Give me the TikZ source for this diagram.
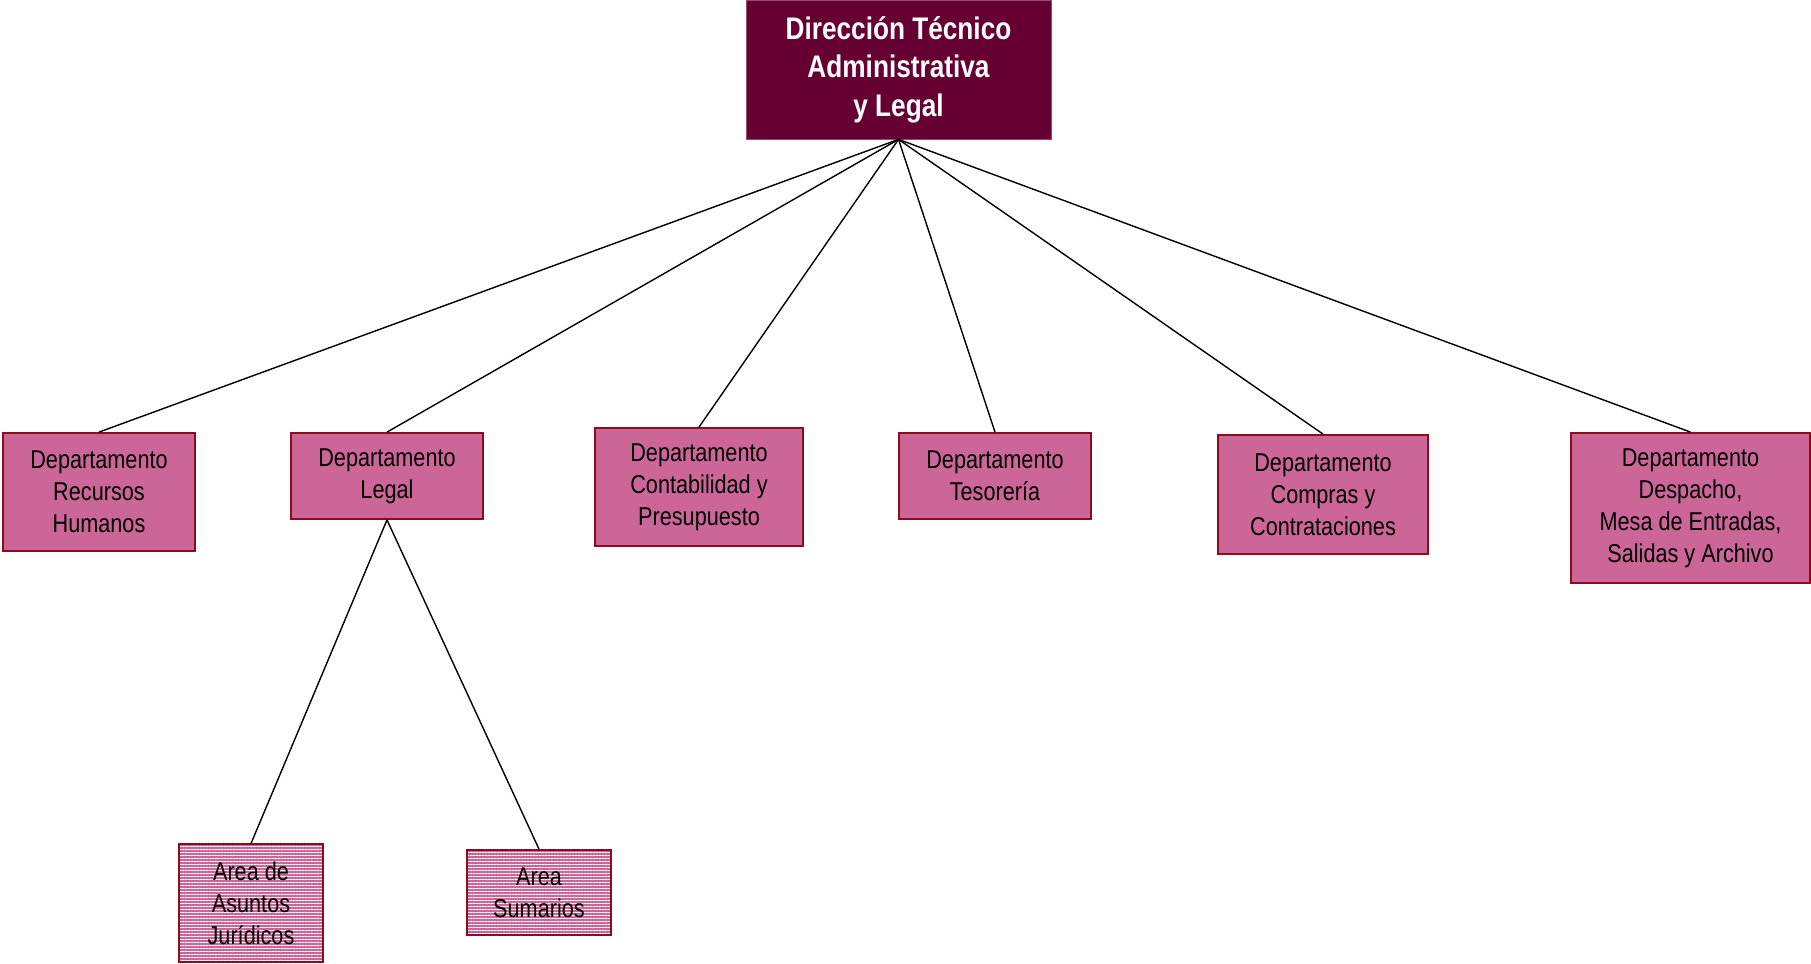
\documentclass[tikz,border=0pt]{standalone}
\usepackage{fontspec}
\setmainfont{Liberation Sans}[FakeStretch=0.84]
\usepackage{xcolor}
\usetikzlibrary{positioning, patterns.meta}

\definecolor{granate}{HTML}{660033}
\definecolor{rosa}{HTML}{CC6699}
\definecolor{borde}{HTML}{8E0B1E}

\begin{document}
\begin{tikzpicture}[
  x=0.5pt, y=-0.5pt,
  font=\fontsize{12.9}{16}\selectfont,
  head/.style={rectangle, draw=granate!70, fill=granate, text=white,
               font=\fontsize{15.6}{19.3}\selectfont\bfseries,
               align=center, inner sep=2pt},
  dept/.style={rectangle, draw=borde, line width=0.9pt, fill=rosa,
               align=center, inner sep=2pt},
  area/.style={dept, preaction={fill=rosa},
               pattern={Lines[angle=0, distance=1.5pt, line width=0.5pt]},
               pattern color=white},
  link/.style={line width=0.7pt}
]
\useasboundingbox (0,0) rectangle (1811,964);
\node[head, minimum width=152.5pt, minimum height=69.5pt] (dir) at (898.5,69.5)
  {Dirección Técnico\\Administrativa\\y Legal};
\node[dept, minimum width=96pt, minimum height=59pt] (rrhh) at (99,492)
  {Departamento\\Recursos\\Humanos};
\node[dept, minimum width=96pt, minimum height=43pt] (legal) at (387,476)
  {Departamento\\Legal};
\node[dept, minimum width=104pt, minimum height=59pt] (conta) at (699,487)
  {Departamento\\Contabilidad y\\Presupuesto};
\node[dept, minimum width=96pt, minimum height=43pt] (teso) at (995,476)
  {Departamento\\Tesorería};
\node[dept, minimum width=105pt, minimum height=59.5pt] (compras) at (1323,494.5)
  {Departamento\\Compras y\\Contrataciones};
\node[dept, minimum width=119.5pt, minimum height=75pt] (despacho) at (1690.5,508)
  {Departamento\\Despacho,\\Mesa de Entradas,\\Salidas y Archivo};
\node[area, minimum width=72pt, minimum height=59pt] (juri) at (251,903)
  {Area de\\Asuntos\\Jurídicos};
\node[area, minimum width=72pt, minimum height=42.5pt] (suma) at (539,892.5)
  {Area\\Sumarios};
\draw[link] (dir.south) -- (rrhh.north);
\draw[link] (dir.south) -- (legal.north);
\draw[link] (dir.south) -- (conta.north);
\draw[link] (dir.south) -- (teso.north);
\draw[link] (dir.south) -- (compras.north);
\draw[link] (dir.south) -- (despacho.north);
\draw[link] (legal.south) -- (juri.north);
\draw[link] (legal.south) -- (suma.north);
\end{tikzpicture}
\end{document}
